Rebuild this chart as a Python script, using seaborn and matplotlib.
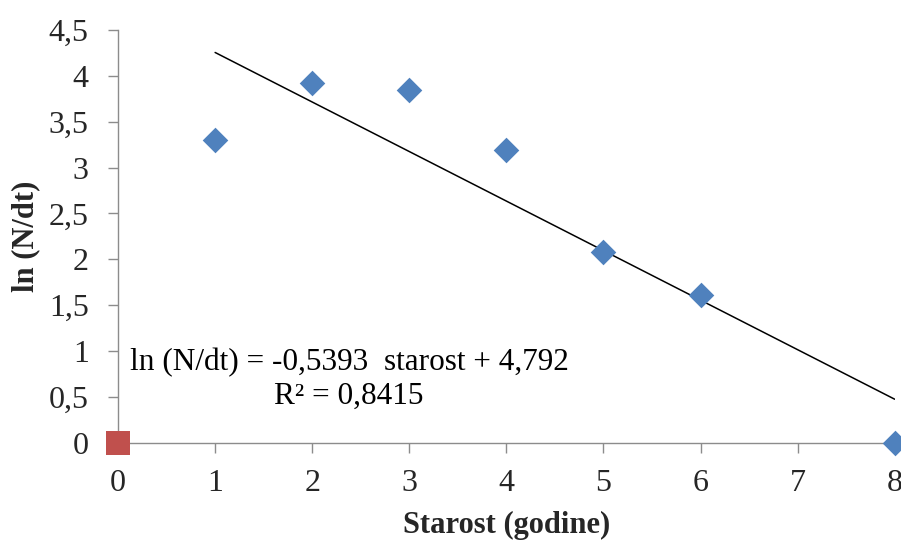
import matplotlib.pyplot as plt
import seaborn as sns
import numpy as np
import pandas as pd

# data
starost = [1, 2, 3, 4, 5, 6, 8]
ln_n_dt = [3.30, 3.92, 3.84, 3.19, 2.08, 1.61, 0.0]
red_x = [0]
red_y = [0.0]
slope = -0.5393
intercept = 4.792
r2 = 0.8415
trend_x = [1, 8]

sns.set_style("white")
plt.rcParams['font.family'] = ['Liberation Serif', 'DejaVu Serif']

fig = plt.figure(figsize=(9.01, 5.41), dpi=100)
ax = fig.add_axes([0.131, 0.181, 0.862, 0.764])

trend_y = [slope * x + intercept for x in trend_x]
sns.lineplot(x=trend_x, y=trend_y, ax=ax, color="black", linewidth=1.1, zorder=2)
sns.scatterplot(x=starost, y=ln_n_dt, ax=ax, marker="D", s=170, color="#4F81BD",
                edgecolor="#4F81BD", linewidth=0, zorder=3, clip_on=False)
sns.scatterplot(x=red_x, y=red_y, ax=ax, marker="s", s=300, color="#C0504D",
                edgecolor="#C0504D", linewidth=0, zorder=4, clip_on=False)

ax.set_xlim(0, 8)
ax.set_ylim(0, 4.5)
ax.set_xticks(range(0, 9))
yt = np.arange(0, 4.51, 0.5)
ax.set_yticks(yt)
ax.set_yticklabels([f"{v:g}".replace(".", ",") for v in yt])

for s in ["top", "right"]:
    ax.spines[s].set_visible(False)
for s in ["left", "bottom"]:
    ax.spines[s].set_color("#8c8c8c")
    ax.spines[s].set_linewidth(1.0)
ax.tick_params(axis="both", direction="out", length=7, width=1, color="#8c8c8c",
               labelsize=23, bottom=True, left=True)
ax.tick_params(axis="x", pad=12)
ax.tick_params(axis="y", pad=14)

ax.set_xlabel("Starost (godine)", fontsize=22, fontweight="bold", labelpad=9)
ax.set_ylabel("ln (N/dt)", fontsize=22, fontweight="bold", labelpad=6)

eq = f"ln (N/dt) = {slope:.4f}  starost + {intercept:.3f}".replace(".", ",")
r2_txt = f"R² = {r2:.4f}".replace(".", ",")
ax.text(2.38, 0.69, eq + "\n" + r2_txt, ha="center", va="center", fontsize=22.5,
        linespacing=1.2, color="black")

fig.savefig("out.png", dpi=100)
